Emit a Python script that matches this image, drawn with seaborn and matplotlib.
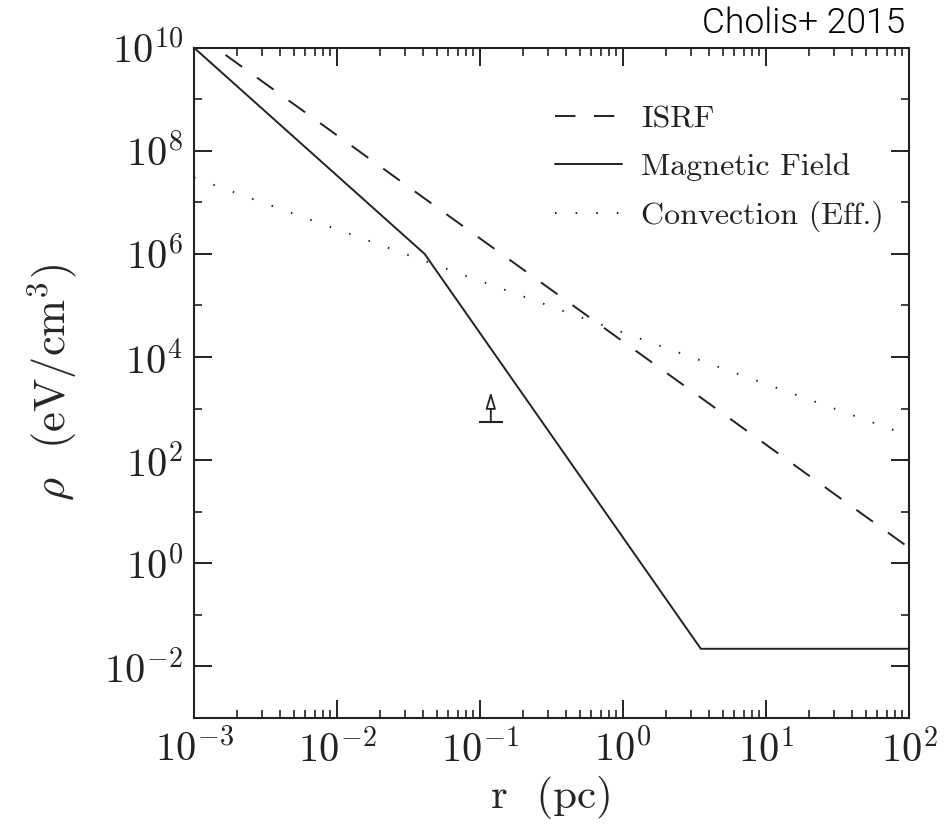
import numpy as np
import pandas as pd
import matplotlib
matplotlib.use("Agg")
import matplotlib.pyplot as plt
import matplotlib.ticker as mticker
import seaborn as sns

# Energy densities vs. galactocentric radius (log-log power laws)
isrf_r = [1e-3, 1e2]
isrf_rho = [2e10, 2.0]

bfield_r = [1e-3, 0.041, 3.5, 1e2]
bfield_rho = [1e10, 1e6, 0.022, 0.022]

conv_r = [1e-3, 1e2]
conv_rho = [3e7, 3e2]

limit_r = [0.119]
limit_rho = [540.0]

series_labels = ["ISRF", "Magnetic Field", "Convection (Eff.)"]

sns.set_theme(style="ticks")
plt.rcParams.update({
    "font.family": ["cmr10", "DejaVu Serif"],
    "mathtext.fontset": "cm",
    "axes.unicode_minus": False,
    "axes.formatter.use_mathtext": True,
    "axes.linewidth": 1.5,
    "axes.edgecolor": "#222222",
    "text.color": "#222222",
    "xtick.color": "#222222",
    "ytick.color": "#222222",
})

ink = "#222222"
fig = plt.figure(figsize=(9.48, 8.38), dpi=100)
ax = fig.add_axes([0.2046, 0.1432, 0.7543, 0.7999])

isrf = pd.DataFrame({"r": isrf_r, "rho": isrf_rho})
bfield = pd.DataFrame({"r": bfield_r, "rho": bfield_rho})
conv = pd.DataFrame({"r": conv_r, "rho": conv_rho})

sns.lineplot(data=isrf, x="r", y="rho", ax=ax, color=ink, lw=1.4,
             sort=False, label=series_labels[0])
ax.lines[-1].set_dashes((10.5, 9.5))
sns.lineplot(data=bfield, x="r", y="rho", ax=ax, color=ink, lw=1.4,
             sort=False, label=series_labels[1])
sns.lineplot(data=conv, x="r", y="rho", ax=ax, color=ink, lw=1.4,
             sort=False, label=series_labels[2])
ax.lines[-1].set_dashes((0.8, 9.8))

# lower-limit marker
ax.plot(limit_r, limit_rho, marker="_", markersize=17, mew=1.5,
        color=ink, ls="none")
for r, rho in zip(limit_r, limit_rho):
    ax.annotate("", xy=(r, rho), xytext=(0, 22), textcoords="offset points",
                arrowprops=dict(arrowstyle="<|-,head_length=0.5,head_width=0.15",
                                mutation_scale=20, fc="white", ec=ink,
                                lw=1.3, shrinkA=0, shrinkB=0))

ax.set_xscale("log")
ax.set_yscale("log")
ax.set_xlim(1e-3, 1e2)
ax.set_ylim(1e-3, 1e10)

ax.xaxis.set_major_locator(mticker.LogLocator(base=10, numticks=20))
ax.xaxis.set_minor_locator(mticker.LogLocator(base=10, subs=np.arange(2, 10), numticks=20))
ax.xaxis.set_major_formatter(mticker.LogFormatterMathtext())
ax.xaxis.set_minor_formatter(mticker.NullFormatter())

ax.yaxis.set_major_locator(mticker.FixedLocator(10.0 ** np.arange(-2, 11, 2)))
ax.yaxis.set_minor_locator(mticker.FixedLocator(10.0 ** np.arange(-3, 10, 2)))
ax.yaxis.set_major_formatter(mticker.LogFormatterMathtext())
ax.yaxis.set_minor_formatter(mticker.NullFormatter())

ax.tick_params(which="both", direction="in", top=True, right=True, color=ink)
ax.tick_params(which="major", length=13, width=1.4, labelsize=29, pad=8)
ax.tick_params(which="minor", length=5.5, width=1.2)

ax.set_xlabel("r  (pc)", fontsize=31, labelpad=4)
ax.set_ylabel(r"$\rho$  (eV/cm$^3$)", fontsize=32, labelpad=18)

leg = ax.legend(loc="upper left", bbox_to_anchor=(0.505, 0.915), frameon=False,
                fontsize=23, handlelength=2.1, handletextpad=0.6,
                labelspacing=0.62, borderpad=0, borderaxespad=0)

fig.text(0.955, 0.972, "Cholis+ 2015", ha="right", va="center",
         fontsize=25.5, family=["Roboto", "DejaVu Sans"], fontweight=300,
         color="#000000")

fig.savefig("out.png", dpi=100)
